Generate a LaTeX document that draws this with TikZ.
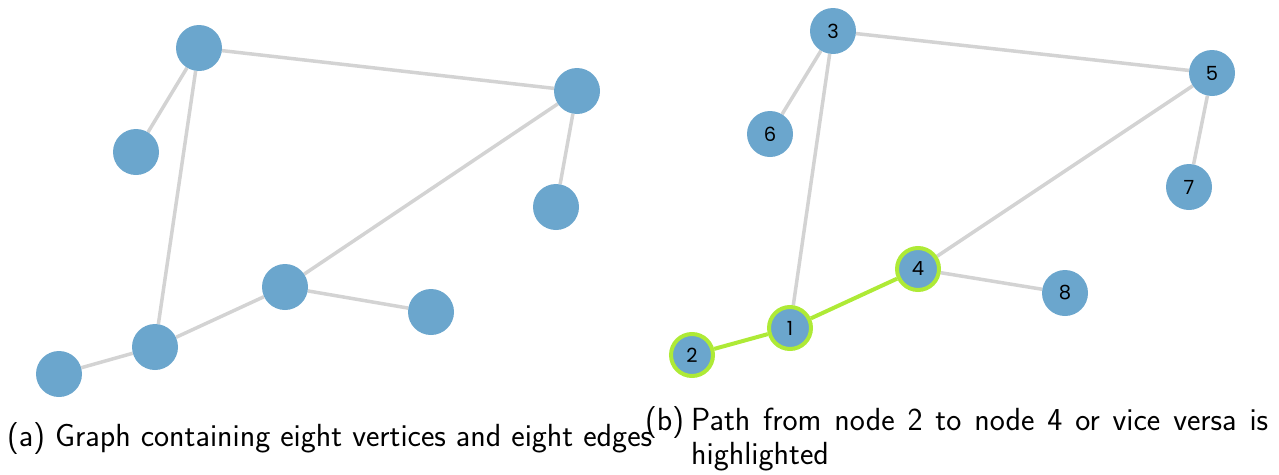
\documentclass[tikz,border=0pt]{standalone}
\usepackage{fontspec}
\usetikzlibrary{backgrounds}
\newfontfamily\vfont{Poppins}
\definecolor{vfill}{HTML}{6BA6CD}
\definecolor{egray}{HTML}{D3D3D3}
\definecolor{hl}{HTML}{AEEA36}
\begin{document}
\begin{tikzpicture}[x=1pt,y=-1pt,
  vtx/.style={circle,fill=vfill,minimum size=46pt,inner sep=0pt,font=\vfont\fontsize{19.5}{19.5}\selectfont},
  hvtx/.style={vtx,draw=hl,line width=4pt,minimum size=42pt},
  edge/.style={draw=egray,line width=3.5pt},
  hedge/.style={draw=hl,line width=4pt},
  captext/.style={font=\sffamily\fontsize{32}{34}\selectfont,inner sep=0pt}]
\useasboundingbox (0,0) rectangle (1279,474);
% left graph (a)
\node[vtx] (a1) at (199,48) {};
\node[vtx] (a2) at (577,91) {};
\node[vtx] (a3) at (136,152) {};
\node[vtx] (a4) at (556,207) {};
\node[vtx] (a5) at (285,287) {};
\node[vtx] (a6) at (431,312) {};
\node[vtx] (a7) at (155,347) {};
\node[vtx] (a8) at (59,374) {};
% right graph (b)
\node[vtx] (b3) at (833,31) {3};
\node[vtx] (b5) at (1212,73) {5};
\node[vtx] (b6) at (770,134) {6};
\node[vtx] (b7) at (1189,187) {7};
\node[hvtx] (b4) at (918,269) {4};
\node[vtx] (b8) at (1065,293) {8};
\node[hvtx] (b1) at (790,328) {1};
\node[hvtx] (b2) at (692,355) {2};
% edges, kept behind the vertices
\begin{scope}[on background layer]
\path[edge] (a1) -- (a2) (a1) -- (a3) (a1) -- (a7) (a2) -- (a5) (a2) -- (a4)
  (a5) -- (a6) (a5) -- (a7) (a7) -- (a8);
\path[edge] (b3) -- (b5) (b3) -- (b6) (b3) -- (b1) (b5) -- (b4) (b5) -- (b7)
  (b4) -- (b8);
\path[hedge] (b4) -- (b1) (b1) -- (b2);
\end{scope}
% captions
\node[captext,anchor=base west] (capa) at (7,446) {(a) Graph containing eight vertices and eight edges};
\node[captext,anchor=base west] (capbl) at (645,430) {(b)};
\node[captext,anchor=north west,text width=577pt,align=justify] (capb) at (691,408)
  {Path from node 2 to node 4 or vice versa is highlighted};
\end{tikzpicture}
\end{document}
